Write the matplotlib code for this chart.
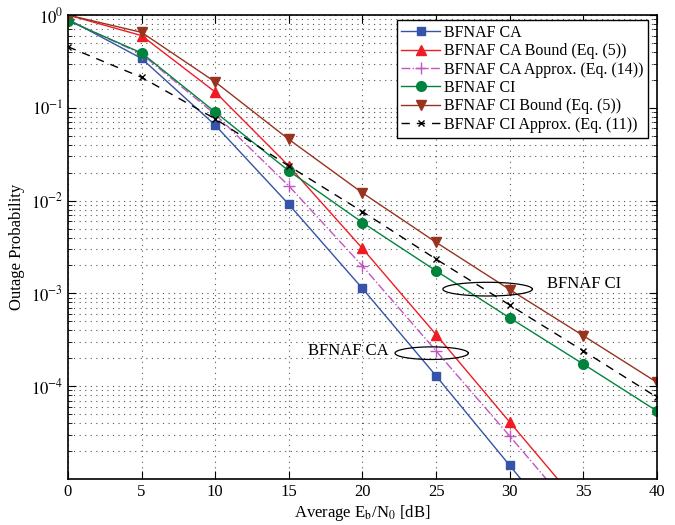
import numpy as np
import matplotlib
matplotlib.use("Agg")
import matplotlib.pyplot as plt
from matplotlib.ticker import LogLocator, NullFormatter, MultipleLocator

plt.rcParams['font.family'] = ['Liberation Serif', 'DejaVu Serif']
plt.rcParams['mathtext.fontset'] = 'stix'

snr = [0, 5, 10, 15, 20, 25, 30, 35, 40]
ca_sim = [0.90, 0.34, 0.065, 0.0091, 0.00113, 1.29e-4, 1.4e-5, 1.5e-6, 1.6e-7]
ca_bound = [1.0, 0.60, 0.148, 0.0236, 0.00305, 3.6e-4, 4.1e-5, 4.7e-6, 5.3e-7]
ca_approx = [0.88, 0.38, 0.085, 0.0144, 0.00197, 2.4e-4, 2.9e-5, 3.4e-6, 4.0e-7]
ci_sim = [0.87, 0.39, 0.090, 0.0209, 0.0058, 0.00175, 5.45e-4, 1.73e-4, 5.4e-5]
ci_bound = [1.0, 0.65, 0.19, 0.0457, 0.0121, 0.00355, 0.0011, 3.5e-4, 1.1e-4]
ci_approx = [0.455, 0.213, 0.076, 0.0236, 0.0076, 0.00234, 7.5e-4, 2.4e-4, 7.6e-5]

labels = ['BFNAF CA', 'BFNAF CA Bound (Eq. (5))', 'BFNAF CA Approx. (Eq. (14))',
          'BFNAF CI', 'BFNAF CI Bound (Eq. (5))', 'BFNAF CI Approx. (Eq. (11))']

fig = plt.figure(figsize=(6.75, 5.25), dpi=100)
ax = fig.add_axes([0.1007, 0.0876, 0.8726, 0.8838])

lw = 1.0
ax.plot(snr, ca_sim, '-', color='#3553a8', marker='s', ms=6, lw=lw, label=labels[0])
ax.plot(snr, ca_bound, '-', color='#ee1c24', marker='^', ms=7.5, lw=lw, label=labels[1])
ax.plot(snr, ca_approx, '-.', color='#c155c1', marker='+', ms=8, mew=1.0, lw=lw, label=labels[2])
ax.plot(snr, ci_sim, '-', color='#00843d', marker='o', ms=7, lw=lw, label=labels[3])
ax.plot(snr, ci_bound, '-', color='#983320', marker='v', ms=7.5, lw=lw, label=labels[4])
ax.plot(snr, ci_approx, '--', color='black', marker='x', ms=5, mew=1.0, lw=lw,
        dashes=(6, 5), label=labels[5])

ax.set_yscale('log')
ax.set_xlim(0, 40)
ax.set_ylim(1e-5, 1)
ax.xaxis.set_major_locator(MultipleLocator(5))
ax.yaxis.set_minor_locator(LogLocator(base=10, subs=np.arange(2, 10), numticks=20))
ax.yaxis.set_minor_formatter(NullFormatter())
ax.set_yticks([1e-4, 1e-3, 1e-2, 1e-1, 1])
ax.set_yticklabels([r'$10^{-4}$', r'$10^{-3}$', r'$10^{-2}$', r'$10^{-1}$', r'$10^{0}$'])

ax.grid(True, which='major', linestyle=(0, (1, 4)), color='#555555', lw=0.8)
ax.grid(True, which='minor', axis='y', linestyle=(0, (1, 4)), color='#555555', lw=0.8)
ax.tick_params(which='both', direction='in', top=True, right=True, labelsize=12)
ax.tick_params(which='major', length=6)
ax.tick_params(which='minor', length=3)
for s in ax.spines.values():
    s.set_linewidth(1.2)

ax.set_xlabel(r'Average E$_\mathrm{b}$/N$_0$ [dB]', fontsize=12, labelpad=2)
ax.set_ylabel('Outage Probability', fontsize=12, labelpad=4)

# annotation ellipses (center x, center log10 y, half width dB, half height decades)
t = np.linspace(0, 2 * np.pi, 200)
for cx, cly, a, b, tx, ty, txt in [(28.5, -2.954, 3.04, 0.074, 32.5, 1.25e-3, 'BFNAF CI'),
                                   (24.7, -3.644, 2.49, 0.068, 16.3, 2.4e-4, 'BFNAF CA')]:
    ax.plot(cx + a * np.cos(t), 10 ** (cly + b * np.sin(t)), color='black', lw=0.9)
    ax.text(tx, ty, txt, fontsize=12, va='center', ha='left')

leg = ax.legend(loc='upper right', bbox_to_anchor=(1 - 9 / 589, 1 - 5 / 464),
                borderaxespad=0, fontsize=11.5, fancybox=False, framealpha=1,
                edgecolor='black', borderpad=0.3, labelspacing=0.15, handlelength=2.4,
                handletextpad=0.25)
leg.get_frame().set_linewidth(1.0)

fig.savefig('out.png', dpi=100)
